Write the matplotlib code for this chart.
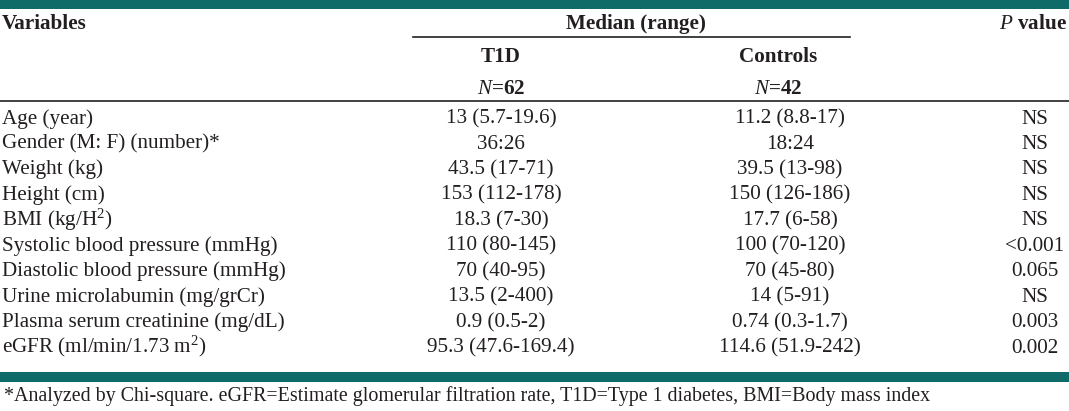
import matplotlib
matplotlib.use("Agg")
import matplotlib.pyplot as plt

plt.rcParams['font.family'] = ['Liberation Serif', 'DejaVu Serif']
plt.rcParams['mathtext.fontset'] = 'custom'
plt.rcParams['mathtext.rm'] = 'Liberation Serif'
plt.rcParams['mathtext.it'] = 'Liberation Serif:italic'
plt.rcParams['mathtext.bf'] = 'Liberation Serif:bold'

# table content
variables = ['Age (year)', 'Gender (M: F) (number)*', 'Weight (kg)', 'Height (cm)',
             'BMI (kg/H$^{2}$)', 'Systolic blood pressure (mmHg)',
             'Diastolic blood pressure (mmHg)', 'Urine microlabumin (mg/grCr)',
             'Plasma serum creatinine (mg/dL)', 'eGFR (ml/min/1.73 m$^{2}$)']
t1d = ['13 (5.7-19.6)', '36:26', '43.5 (17-71)', '153 (112-178)', '18.3 (7-30)',
       '110 (80-145)', '70 (40-95)', '13.5 (2-400)', '0.9 (0.5-2)', '95.3 (47.6-169.4)']
controls = ['11.2 (8.8-17)', '18:24', '39.5 (13-98)', '150 (126-186)', '17.7 (6-58)',
            '100 (70-120)', '70 (45-80)', '14 (5-91)', '0.74 (0.3-1.7)', '114.6 (51.9-242)']
pvals = ['NS', 'NS', 'NS', 'NS', 'NS', '<0.001', '0.065', 'NS', '0.003', '0.002']
footnote = ('*Analyzed by Chi-square. eGFR=Estimate glomerular filtration rate, '
            'T1D=Type 1 diabetes, BMI=Body mass index')

teal = '#0e6b68'
ink = '#231f20'
fs = 15.2

fig = plt.figure(figsize=(10.69, 4.11), dpi=100)
ax = fig.add_axes([0, 0, 1, 1])
ax.set_xlim(0, 1069)
ax.set_ylim(411, 0)
ax.axis('off')

# rules
ax.axhspan(0, 9, color=teal, lw=0)
ax.axhspan(372, 382, color=teal, lw=0)
ax.plot([413, 850], [37, 37], color=ink, lw=1.2)
ax.plot([0, 1069], [101.5, 101.5], color=ink, lw=1.2)

# header
ax.text(2, 29, 'Variables', fontsize=fs, fontweight='bold', color=ink, va='baseline')
ax.text(636, 29, 'Median (range)', fontsize=fs, fontweight='bold', color=ink,
        va='baseline', ha='center')
ax.text(1067, 29, r'$\mathit{P}$ value', fontsize=fs, fontweight='bold', color=ink,
        va='baseline', ha='right')
ax.text(501, 62, 'T1D', fontsize=fs, fontweight='bold', color=ink, va='baseline', ha='center')
ax.text(778, 62, 'Controls', fontsize=fs, fontweight='bold', color=ink, va='baseline', ha='center')
ax.text(501, 94, r'$\mathit{N}$=62', fontsize=fs, fontweight='bold', color=ink,
        va='baseline', ha='center')
ax.text(778, 94, r'$\mathit{N}$=42', fontsize=fs, fontweight='bold', color=ink,
        va='baseline', ha='center')

# body rows
for i in range(len(variables)):
    y = 123.5 + 25.45 * i
    ax.text(2, y, variables[i], fontsize=fs, color=ink, va='baseline')
    ax.text(501, y, t1d[i], fontsize=fs, color=ink, va='baseline', ha='center')
    ax.text(790, y, controls[i], fontsize=fs, color=ink, va='baseline', ha='center')
    ax.text(1035, y, pvals[i], fontsize=fs, color=ink, va='baseline', ha='center')

ax.text(4, 401, footnote, fontsize=14.4, color=ink, va='baseline')

fig.savefig('out.png', dpi=100)
